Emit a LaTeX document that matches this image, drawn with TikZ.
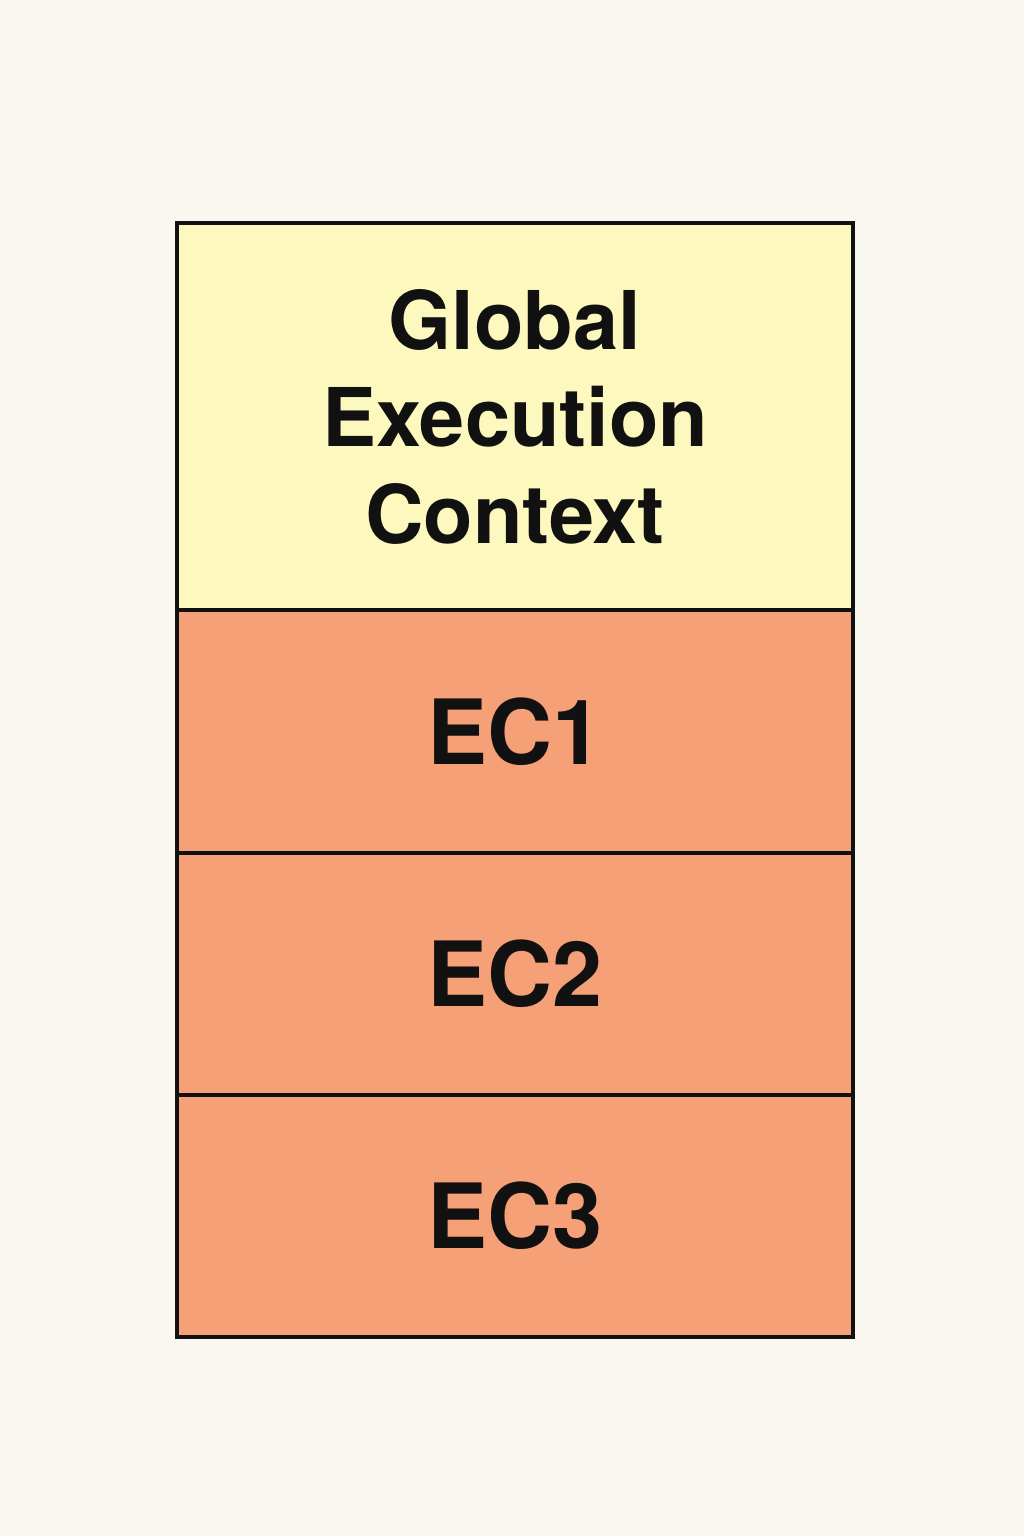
\documentclass[tikz,border=0pt]{standalone}
\usepackage{fontspec}
\setmainfont{TeX Gyre Heros}
\definecolor{bgc}{HTML}{FAF7F0}
\definecolor{gyellow}{HTML}{FDF8BE}
\definecolor{ecorange}{HTML}{F5A077}
\definecolor{inkc}{HTML}{111111}
\begin{document}
\begin{tikzpicture}[x=1pt,y=-1pt,
  cell/.style={draw=inkc,line width=4pt,minimum width=676pt,inner sep=0pt,anchor=north west,font=\bfseries,text=inkc,align=center},
  ]
\fill[bgc] (0,0) rectangle (1024,1536);
\useasboundingbox (0,0) rectangle (1024,1536);
\node[cell,fill=gyellow,minimum height=387pt,font=\bfseries\fontsize{81}{97}\selectfont] (g) at (175,221) {Global\\Execution\\Context};
\node[cell,fill=ecorange,minimum height=243pt,font=\bfseries\fontsize{90}{100}\selectfont] (e1) at (175,608) {EC1};
\node[cell,fill=ecorange,minimum height=242pt,font=\bfseries\fontsize{90}{100}\selectfont] (e2) at (175,851) {EC2};
\node[cell,fill=ecorange,minimum height=242pt,font=\bfseries\fontsize{90}{100}\selectfont] (e3) at (175,1093) {EC3};
\end{tikzpicture}
\end{document}
